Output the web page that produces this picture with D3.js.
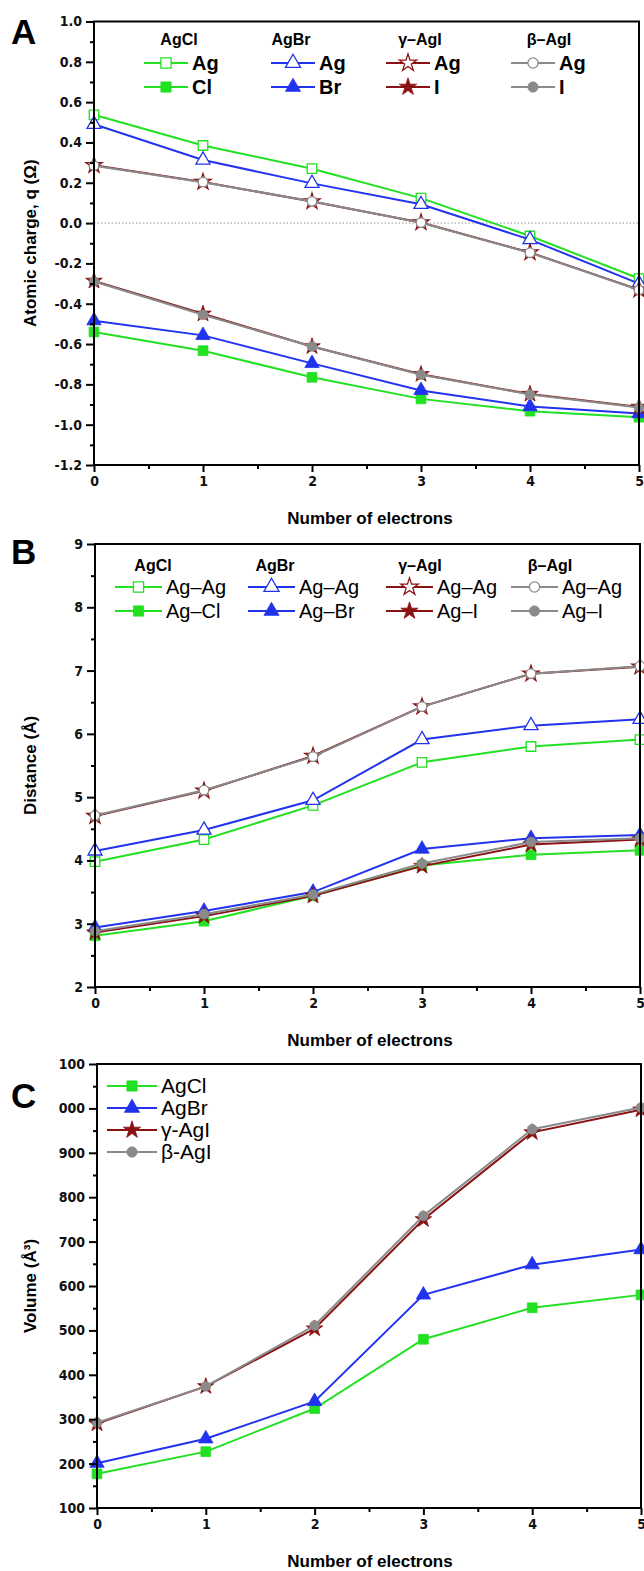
<!DOCTYPE html>
<html>
<head>
<meta charset="utf-8">
<script src="https://cdn.jsdelivr.net/npm/d3@7"></script>
<style>
  body { margin: 0; background: #fff; }
  text { font-family: "Liberation Sans", Arial, sans-serif; }
  .tick-label { font-family: "Liberation Sans Narrow", "DejaVu Sans Condensed", "Liberation Sans", sans-serif; font-size: 14px; font-weight: bold; }
  .axis-title { font-size: 17px; font-weight: bold; }
</style>
</head>
<body>
<svg width="644" height="1571"></svg>
<script>
const svg = d3.select("svg");

// number of electrons
const electrons = [0, 1, 2, 3, 4, 5];

// panel A : atomic charge
const chargeAgCl_Ag = [0.537, 0.385, 0.270, 0.124, -0.064, -0.275];
const chargeAgCl_Cl = [-0.540, -0.633, -0.765, -0.872, -0.933, -0.963];
const chargeAgBr_Ag = [0.490, 0.313, 0.197, 0.093, -0.082, -0.300];
const chargeAgBr_Br = [-0.484, -0.557, -0.696, -0.830, -0.910, -0.945];
const chargeGAgI_Ag = [0.287, 0.204, 0.107, 0.003, -0.146, -0.330];
const chargeGAgI_I = [-0.287, -0.450, -0.612, -0.750, -0.848, -0.912];
const chargeBAgI_Ag = [0.285, 0.203, 0.108, 0.002, -0.147, -0.332];
const chargeBAgI_I = [-0.290, -0.455, -0.612, -0.752, -0.850, -0.915];

// panel B : distances
const distAgCl_AgAg = [3.98, 4.33, 4.87, 5.55, 5.80, 5.91];
const distAgCl_AgCl = [2.81, 3.04, 3.44, 3.92, 4.09, 4.16];
const distAgBr_AgAg = [4.15, 4.48, 4.95, 5.91, 6.13, 6.23];
const distAgBr_AgBr = [2.94, 3.20, 3.50, 4.18, 4.35, 4.40];
const distGAgI_AgAg = [4.70, 5.10, 5.65, 6.43, 6.95, 7.06];
const distGAgI_AgI = [2.86, 3.12, 3.44, 3.91, 4.25, 4.33];
const distBAgI_AgAg = [4.71, 5.11, 5.64, 6.43, 6.95, 7.07];
const distBAgI_AgI = [2.88, 3.15, 3.46, 3.95, 4.29, 4.35];

// panel C : volume
const volAgCl = [177, 227, 324, 480, 551, 580];
const volAgBr = [201, 256, 340, 580, 648, 682];
const volGAgI = [290, 374, 504, 750, 946, 997];
const volBAgI = [292, 374, 511, 758, 953, 1002];

// tick labels
const xTickLabels = ["0", "1", "2", "3", "4", "5"];
const aTicks = [-1.2, -1.0, -0.8, -0.6, -0.4, -0.2, 0.0, 0.2, 0.4, 0.6, 0.8, 1.0];
const aTickLabels = ["-1.2", "-1.0", "-0.8", "-0.6", "-0.4", "-0.2", "0.0", "0.2", "0.4", "0.6", "0.8", "1.0"];
const bTicks = [2, 3, 4, 5, 6, 7, 8, 9];
const bTickLabels = ["2", "3", "4", "5", "6", "7", "8", "9"];
const cTicks = [100, 200, 300, 400, 500, 600, 700, 800, 900, 1000, 1100];
const cTickLabels = ["100", "200", "300", "400", "500", "600", "700", "800", "900", "000", "100"];

// legend texts
const compounds = ["AgCl", "AgBr", "\u03b3\u2013AgI", "\u03b2\u2013AgI"];
const aLegendRows = [["Ag", "Cl"], ["Ag", "Br"], ["Ag", "I"], ["Ag", "I"]];
const bLegendRows = [["Ag\u2013Ag", "Ag\u2013Cl"], ["Ag\u2013Ag", "Ag\u2013Br"], ["Ag\u2013Ag", "Ag\u2013I"], ["Ag\u2013Ag", "Ag\u2013I"]];
const cLegend = ["AgCl", "AgBr", "\u03b3-AgI", "\u03b2-AgI"];

const green = "#22e022";
const blue = "#2233ee";
const darkRed = "#8b1212";
const gray = "#8a8a8a";

const styles = [
    { color: green, symbol: d3.symbolSquare, size: 95 },
    { color: blue, symbol: d3.symbolTriangle, size: 90 },
    { color: darkRed, symbol: d3.symbolStar, size: 85 },
    { color: gray, symbol: d3.symbolCircle, size: 75 }
];

const drawPanel = cfg => {
    const xScale = d3.scaleLinear().domain([0, 5]).range([cfg.left, cfg.right]);
    const yScale = d3.scaleLinear().domain(cfg.yDomain).range([cfg.bottom, cfg.top]);
    const g = svg.append("g");

    if (cfg.zeroLine) {
        g.append("line")
            .attr("x1", xScale(0)).attr("x2", xScale(5))
            .attr("y1", yScale(0)).attr("y2", yScale(0))
            .attr("stroke", "#999").attr("stroke-width", 1)
            .attr("stroke-dasharray", "1.5,2");
    }

    // series lines + markers
    cfg.series.forEach(s => {
        const st = styles[s.style];
        const line = d3.line().x((d, i) => xScale(electrons[i])).y(d => yScale(d));
        g.append("path")
            .attr("d", line(s.values))
            .attr("fill", "none")
            .attr("stroke", st.color)
            .attr("stroke-width", 2);
        g.selectAll(null).data(s.values).enter().append("path")
            .attr("transform", (d, i) => `translate(${xScale(electrons[i])},${yScale(d)})`)
            .attr("d", d3.symbol().type(st.symbol).size(s.open ? st.size * 0.95 : st.size))
            .attr("fill", s.open ? "#fff" : st.color)
            .attr("stroke", st.color)
            .attr("stroke-width", s.open ? 1.3 : 0.8);
    });

    // axes
    const xAxis = d3.axisBottom(xScale)
        .tickValues(electrons)
        .tickFormat((d, i) => xTickLabels[i])
        .tickSize(7).tickPadding(4);
    const xMinor = d3.axisBottom(xScale)
        .tickValues(electrons.slice(0, 5).map(d => d + 0.5))
        .tickFormat("").tickSize(4);
    const yAxis = d3.axisLeft(yScale)
        .tickValues(cfg.ticks)
        .tickFormat((d, i) => cfg.tickLabels[i])
        .tickSize(8).tickPadding(4);
    const minorStep = (cfg.ticks[1] - cfg.ticks[0]) / 2;
    const yMinor = d3.axisLeft(yScale)
        .tickValues(cfg.ticks.slice(0, -1).map(d => d + minorStep))
        .tickFormat("").tickSize(4);

    [xAxis, xMinor].forEach(ax => {
        g.append("g").attr("transform", `translate(0,${cfg.bottom})`).call(ax);
    });
    [yAxis, yMinor].forEach(ax => {
        g.append("g").attr("transform", `translate(${cfg.left},0)`).call(ax);
    });
    g.selectAll(".domain").remove();
    g.selectAll(".tick line").attr("stroke", "#000").attr("stroke-width", 2);
    g.selectAll(".tick text").attr("class", "tick-label").attr("fill", "#111");

    // frame
    g.append("rect")
        .attr("x", cfg.left).attr("y", cfg.top)
        .attr("width", cfg.right - cfg.left).attr("height", cfg.bottom - cfg.top)
        .attr("fill", "none").attr("stroke", "#000").attr("stroke-width", 2);

    // titles
    g.append("text")
        .attr("class", "axis-title")
        .attr("x", 370).attr("y", cfg.bottom + 59)
        .attr("text-anchor", "middle")
        .text("Number of electrons");
    g.append("text")
        .attr("class", "axis-title")
        .attr("transform", `translate(36,${(cfg.top + cfg.bottom) / 2}) rotate(-90)`)
        .attr("text-anchor", "middle")
        .text(cfg.yTitle);
    g.append("text")
        .attr("x", 11).attr("y", cfg.top + cfg.letterDy)
        .attr("font-size", 35).attr("font-weight", "bold")
        .attr("font-family", cfg.letterFont)
        .text(cfg.letter);

    return g;
};

// legend item: line with marker, label after it
const legendItem = (g, x, y, lineLen, st, open, label, font) => {
    g.append("line")
        .attr("x1", x).attr("x2", x + lineLen)
        .attr("y1", y).attr("y2", y)
        .attr("stroke", st.color).attr("stroke-width", 2);
    g.append("path")
        .attr("transform", `translate(${x + lineLen / 2},${y})`)
        .attr("d", d3.symbol().type(st.symbol).size(st.size * 1.1))
        .attr("fill", open ? "#fff" : st.color)
        .attr("stroke", st.color)
        .attr("stroke-width", open ? 1.3 : 0.8);
    g.append("text")
        .attr("x", x + lineLen + 4).attr("y", y + 7)
        .attr("font-size", font.size).attr("font-weight", font.weight)
        .text(label);
};

// ---------- panel A ----------
const gA = drawPanel({
    left: 94, right: 639, top: 21.5, bottom: 465,
    yDomain: [-1.2, 1.0], ticks: aTicks, tickLabels: aTickLabels,
    zeroLine: true,
    yTitle: "Atomic charge, q (\u03a9)",
    letter: "A", letterDy: 22, letterFont: "Liberation Sans, Arial, sans-serif",
    series: [
        { values: chargeAgCl_Ag, style: 0, open: true },
        { values: chargeAgCl_Cl, style: 0, open: false },
        { values: chargeAgBr_Ag, style: 1, open: true },
        { values: chargeAgBr_Br, style: 1, open: false },
        { values: chargeGAgI_Ag, style: 2, open: true },
        { values: chargeGAgI_I, style: 2, open: false },
        { values: chargeBAgI_Ag, style: 3, open: true },
        { values: chargeBAgI_I, style: 3, open: false }
    ]
});
const aHeadX = [179, 291, 420, 549];
const aLineX = [144, 271, 386, 511];
compounds.forEach((c, i) => {
    gA.append("text").attr("x", aHeadX[i]).attr("y", 45)
        .attr("text-anchor", "middle").attr("font-size", 16).attr("font-weight", "bold")
        .text(c);
    aLegendRows[i].forEach((lab, r) => {
        legendItem(gA, aLineX[i], 63 + r * 24, 44, styles[i], r === 0, lab, { size: 20, weight: "bold" });
    });
});

// ---------- panel B ----------
const gB = drawPanel({
    left: 95, right: 640, top: 544, bottom: 987,
    yDomain: [2, 9], ticks: bTicks, tickLabels: bTickLabels,
    yTitle: "Distance (\u00c5)",
    letter: "B", letterDy: 20, letterFont: "'Open Sans', sans-serif",
    series: [
        { values: distAgCl_AgAg, style: 0, open: true },
        { values: distAgCl_AgCl, style: 0, open: false },
        { values: distAgBr_AgAg, style: 1, open: true },
        { values: distAgBr_AgBr, style: 1, open: false },
        { values: distGAgI_AgAg, style: 2, open: true },
        { values: distGAgI_AgI, style: 2, open: false },
        { values: distBAgI_AgAg, style: 3, open: true },
        { values: distBAgI_AgI, style: 3, open: false }
    ]
});
const bHeadX = [153, 275, 420, 550];
const bLineX = [115, 248, 386, 511];
compounds.forEach((c, i) => {
    gB.append("text").attr("x", bHeadX[i]).attr("y", 571)
        .attr("text-anchor", "middle").attr("font-size", 16).attr("font-weight", "bold")
        .text(c);
    bLegendRows[i].forEach((lab, r) => {
        legendItem(gB, bLineX[i], 587 + r * 24, 47, styles[i], r === 0, lab, { size: 20, weight: "normal" });
    });
});

// ---------- panel C ----------
const gC = drawPanel({
    left: 97, right: 641, top: 1064, bottom: 1508,
    yDomain: [100, 1100], ticks: cTicks, tickLabels: cTickLabels,
    yTitle: "Volume (\u00c5\u00b3)",
    letter: "C", letterDy: 44, letterFont: "'Open Sans', sans-serif",
    series: [
        { values: volAgCl, style: 0, open: false },
        { values: volAgBr, style: 1, open: false },
        { values: volGAgI, style: 2, open: false },
        { values: volBAgI, style: 3, open: false }
    ]
});
cLegend.forEach((lab, i) => {
    legendItem(gC, 107, 1086 + i * 22, 50, styles[i], false, lab, { size: 21, weight: "normal" });
});
</script>
</body>
</html>
